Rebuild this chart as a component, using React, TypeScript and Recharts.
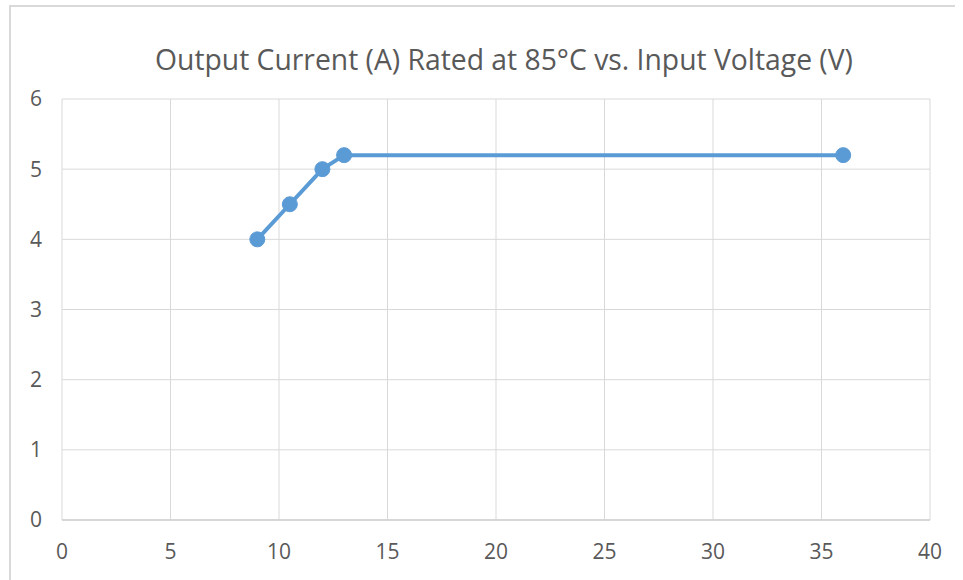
import React from "react";
import { LineChart, Line, XAxis, YAxis, CartesianGrid } from "recharts";

const inputVoltage = [9, 10.5, 12, 13, 36];
const outputCurrent = [4, 4.5, 5, 5.2, 5.2];
const xTicks = [0, 5, 10, 15, 20, 25, 30, 35, 40];
const yTicks = [0, 1, 2, 3, 4, 5, 6];
const title = "Output Current (A) Rated at 85°C vs. Input Voltage (V)";

const data = inputVoltage.map((v, i) => ({ v, a: outputCurrent[i] }));

const FONT = "'Open Sans', sans-serif";
const TEXT = "#595959";
const GRID = "#D9D9D9";

export default function App() {
  return (
    <div style={{ position: "absolute", left: 0, top: 0, width: 963, height: 580, background: "#fff", overflow: "hidden", fontFamily: FONT }}>
      <div style={{ position: "absolute", left: 9, top: 5, width: 944, height: 600, borderLeft: "2px solid #D9D9D9", borderTop: "2px solid #D9D9D9" }} />
      <div style={{ position: "absolute", left: 0, width: 1008, top: 41, textAlign: "center", fontSize: 28.3, color: TEXT, lineHeight: "36px", whiteSpace: "nowrap" }}>
        {title}
      </div>
      <div style={{ position: "absolute", left: 0, top: 0 }}>
        <LineChart width={963} height={580} data={data} margin={{ top: 99, right: 33, bottom: 0, left: 0 }}>
          <CartesianGrid stroke={GRID} strokeWidth={1} />
          <XAxis
            dataKey="v"
            type="number"
            domain={[0, 40]}
            ticks={xTicks}
            interval={0}
            tickLine={false}
            tickSize={0}
            tickMargin={24}
            axisLine={{ stroke: "#D0D0D0", strokeWidth: 1.5 }}
            tick={{ fill: TEXT, fontSize: 21, fontFamily: FONT }}
            height={60}
          />
          <YAxis
            type="number"
            domain={[0, 6]}
            ticks={yTicks}
            interval={0}
            tickLine={false}
            tickSize={0}
            tickMargin={20}
            axisLine={false}
            width={62}
            tick={{ fill: TEXT, fontSize: 21, fontFamily: FONT }}
          />
          <Line
            dataKey="a"
            stroke="#5B9BD5"
            strokeWidth={4}
            dot={{ r: 7.5, fill: "#5B9BD5", stroke: "#5B9BD5", strokeWidth: 1 }}
            activeDot={false}
            isAnimationActive={false}
          />
        </LineChart>
      </div>
    </div>
  );
}
